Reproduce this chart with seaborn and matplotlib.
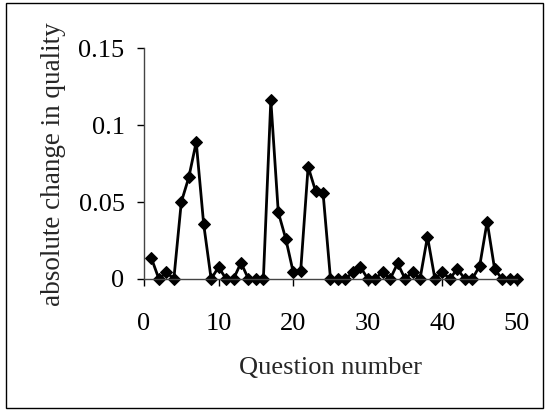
import matplotlib
matplotlib.use("Agg")
import matplotlib.pyplot as plt
import seaborn as sns
import pandas as pd
from matplotlib.patches import Rectangle

questions = list(range(1, 51))
change = [0.0134, 0.0, 0.0045, 0.0, 0.050, 0.066, 0.089, 0.0356, 0.0, 0.0078,
          0.0, 0.0, 0.0106, 0.0, 0.0, 0.0, 0.1164, 0.0434, 0.0262, 0.0045,
          0.005, 0.073, 0.0572, 0.0561, 0.0, 0.0, 0.0, 0.0045, 0.008, 0.0,
          0.0, 0.0048, 0.0, 0.0102, 0.0, 0.0045, 0.0, 0.0275, 0.0, 0.0045,
          0.0, 0.0067, 0.0, 0.0, 0.0085, 0.0373, 0.0065, 0.0, 0.0, 0.0]
x_ticks = [0, 10, 20, 30, 40, 50]
y_ticks = [0, 0.05, 0.1, 0.15]
y_tick_labels = ["0", "0.05", "0.1", "0.15"]

df = pd.DataFrame({"q": questions, "v": change})

sns.set_style("white")
plt.rcParams['font.family'] = ['Liberation Serif', 'DejaVu Serif']

fig = plt.figure(figsize=(5.49, 4.11), dpi=100)
ax = fig.add_axes([0.2623, 0.3212, 0.6794, 0.5613])
sns.lineplot(data=df, x="q", y="v", ax=ax, color="black", linewidth=2,
             marker="D", markersize=6.5, markeredgecolor="black", markerfacecolor="black")
ax.set_xlim(0, 50)
ax.set_ylim(0, 0.15)
ax.set_xticks(x_ticks)
ax.set_xticklabels([str(t) for t in x_ticks])
ax.set_yticks(y_ticks)
ax.set_yticklabels(y_tick_labels)
ax.tick_params(axis='both', labelsize=19, direction='out', length=5, width=1,
               colors='black', bottom=True, left=True)
ax.tick_params(axis='x', pad=19.5)
ax.tick_params(axis='y', pad=9)
for s in ['top', 'right']:
    ax.spines[s].set_visible(False)
for s in ['left', 'bottom']:
    ax.spines[s].set_color('#444444')
    ax.spines[s].set_linewidth(1)
ax.set_xlabel("Question number", fontsize=19, labelpad=16)
ax.set_ylabel("absolute change in quality", fontsize=19.5, labelpad=9)
for line in ax.lines:
    line.set_clip_on(False)

fig.patches.append(Rectangle((6/549, 3/411), 537/549, 405/411, transform=fig.transFigure,
                             fill=False, edgecolor='black', linewidth=1))
fig.savefig("out.png", dpi=100)
